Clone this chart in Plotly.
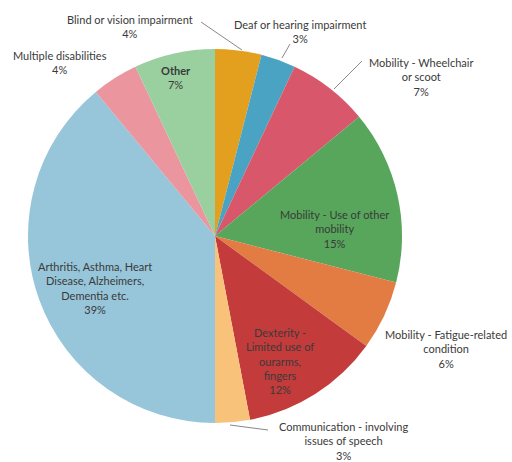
import plotly.graph_objects as go

categories = [
    "Blind or vision impairment",
    "Deaf or hearing impairment",
    "Mobility - Wheelchair or scoot",
    "Mobility - Use of other mobility",
    "Mobility - Fatigue-related condition",
    "Dexterity - Limited use of ourarms, fingers",
    "Communication - involving issues of speech",
    "Arthritis, Asthma, Heart Disease, Alzheimers, Dementia etc.",
    "Multiple disabilities",
    "Other",
]
values = [4, 3, 7, 15, 6, 12, 3, 39, 4, 7]
label_texts = [
    "Blind or vision impairment<br>4%",
    "Deaf or hearing impairment<br>3%",
    "Mobility - Wheelchair<br>or scoot<br>7%",
    "Mobility - Use of other<br>mobility<br>15%",
    "Mobility - Fatigue-related<br>condition<br>6%",
    "Dexterity -<br>Limited use of<br>ourarms,<br>fingers<br>12%",
    "Communication - involving<br>issues of speech<br>3%",
    "Arthritis, Asthma, Heart<br>Disease, Alzheimers,<br>Dementia etc.<br>39%",
    "Multiple disabilities<br>4%",
    "<b>Other</b><br>7%",
]
colors = ["#E3A01E", "#4AA3C2", "#D9576B", "#57A65B", "#E27C43",
          "#C43B3C", "#F8C27A", "#97C5D9", "#EB959E", "#9ACF9F"]

W, H = 512, 462
# label centers in pixels (layout only)
label_pos = [(130, 27), (300, 31), (421, 77), (334, 229), (446, 349),
             (280, 361), (343, 441), (95, 288), (60, 62), (176, 78)]
leaders = [((201, 22), (242, 50)), ((290, 44), (282, 58)),
           ((362, 61), (334, 89)), None, None, None,
           ((268, 430), (230, 425)), None, None, None]

def px(x):
    return x / W

def py(y):
    return 1 - y / H

fig = go.Figure(go.Pie(
    labels=categories, values=values, sort=False, direction="clockwise",
    rotation=0, textinfo="none", hole=0,
    marker=dict(colors=colors, line=dict(width=0)),
    domain=dict(x=[px(215 - 187), px(215 + 187)], y=[py(236 + 187), py(236 - 187)]),
    showlegend=False,
))

for txt, (x, y) in zip(label_texts, label_pos):
    fig.add_annotation(x=px(x), y=py(y), xref="paper", yref="paper", text=txt,
                       showarrow=False, align="center", xanchor="center", yanchor="middle",
                       font=dict(family="Lato, sans-serif", size=11, color="#3a3a3a"))

for ld in leaders:
    if ld:
        (x0, y0), (x1, y1) = ld
        fig.add_shape(type="line", xref="paper", yref="paper",
                      x0=px(x0), y0=py(y0), x1=px(x1), y1=py(y1),
                      line=dict(color="#888888", width=1))

fig.update_layout(width=W, height=H, margin=dict(l=0, r=0, t=0, b=0),
                  paper_bgcolor="white", plot_bgcolor="white")
fig.write_html("out.html", config={"displayModeBar": False},
               post_script="document.body.style.margin='0px';")
